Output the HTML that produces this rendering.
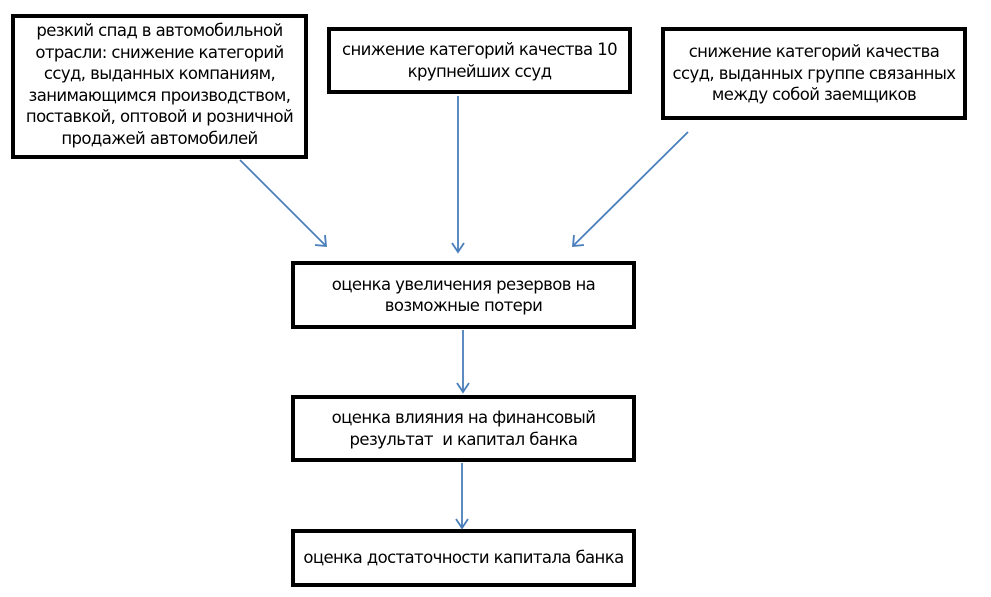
<!DOCTYPE html>
<html><head><meta charset="utf-8"><style>
body{margin:0;width:991px;height:597px;background:#fff;position:relative;overflow:hidden;font-family:"DejaVu Sans","Liberation Sans",sans-serif;}
.b{position:absolute;border:4px solid #000;box-sizing:border-box;display:flex;align-items:center;justify-content:center;text-align:center;font-size:16.5px;line-height:21.5px;color:#000;white-space:nowrap;letter-spacing:-0.6px}
svg{position:absolute;left:0;top:0}
</style></head><body>
<div class="b" style="left:11px;top:14px;width:297px;height:145px;padding-bottom:4px;">резкий спад в автомобильной<br>отрасли: снижение категорий<br>ссуд, выданных компаниям,<br>занимающимся производством,<br>поставкой, оптовой и розничной<br>продажей автомобилей</div>
<div class="b" style="left:327px;top:27px;width:305px;height:67px;align-items:flex-start;padding-top:8px;">снижение категорий качества 10<br>крупнейших ссуд</div>
<div class="b" style="left:661px;top:27px;width:306px;height:93px;">снижение категорий качества<br>ссуд, выданных группе связанных<br>между собой заемщиков</div>
<div class="b" style="left:291px;top:261px;width:345px;height:68px;">оценка увеличения резервов на<br>возможные потери</div>
<div class="b" style="left:291px;top:395px;width:345px;height:67px;">оценка влияния на финансовый<br>результат&nbsp; и капитал банка</div>
<div class="b" style="left:291px;top:529px;width:345px;height:58px;">оценка достаточности капитала банка</div>
<svg width="991" height="597" fill="none" stroke="#4a7ebb" stroke-width="1.8">
<line x1="240" y1="160" x2="326" y2="246"/><polyline points="315,245 326,246 325,235"/>
<line x1="458" y1="96" x2="458" y2="252"/><polyline points="452,243 458,252 464,243"/>
<line x1="688" y1="132" x2="573" y2="246"/><polyline points="574,235 573,246 584,245"/>
<line x1="463" y1="330" x2="463" y2="392"/><polyline points="457,383 463,392 469,383"/>
<line x1="462" y1="463" x2="462" y2="528"/><polyline points="456,519 462,528 468,519"/>
</svg>
</body></html>
